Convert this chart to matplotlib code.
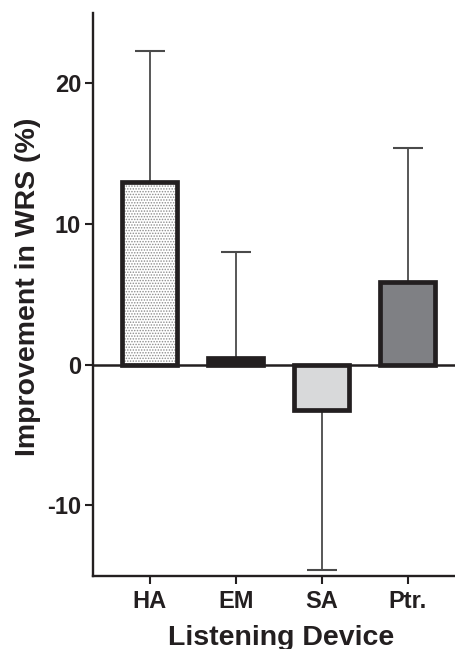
import numpy as np
import matplotlib
matplotlib.use("Agg")
import matplotlib.pyplot as plt

devices = ["HA", "EM", "SA", "Ptr."]
means = [13.0, 0.5, -3.2, 5.9]
sds = [9.3, 7.5, 11.4, 9.5]
fills = ["white", "#231f20", "#d8d9da", "#7f8084"]
yticks = [-10, 0, 10, 20]

INK = "#231f20"
plt.rcParams["font.family"] = ["Liberation Sans", "DejaVu Sans"]
plt.rcParams["font.weight"] = "bold"
plt.rcParams["axes.unicode_minus"] = False
plt.rcParams["hatch.linewidth"] = 0.7

W, H = 456, 649
fig = plt.figure(figsize=(W / 100, H / 100), dpi=100)
ax = fig.add_axes([93 / W, 1 - 575.7 / H, 1 - 93 / W, (575.7 - 13) / H])

x = np.arange(len(devices))
means_a = np.array(means)
sds_a = np.array(sds)
lower = np.where(means_a < 0, sds_a, 0)
upper = np.where(means_a >= 0, sds_a, 0)

ax.errorbar(x, means, yerr=[lower, upper], fmt="none", ecolor="#4a4a4a",
            elinewidth=1.3, capsize=10.5, capthick=1.5, zorder=1)

# fill (with dotted hatch on HA) then thick outlines on top
hatches = ["......", "", "", ""]
for xi, m, f, h in zip(x, means, fills, hatches):
    ax.bar(xi, m, width=0.64, color=f, edgecolor="#8c8c8c" if h else f,
           linewidth=0, hatch=h, zorder=2)
ax.bar(x, means, width=0.64, facecolor="none", edgecolor=INK,
       linewidth=3.4, zorder=3)

ax.axhline(0, color=INK, linewidth=1.8, zorder=4)

ax.set_xlim(-0.66, 3.56)
ax.set_ylim(-15, 25)
ax.set_xticks(x)
ax.set_xticklabels(devices)
ax.set_yticks(yticks)

for s in ["top", "right"]:
    ax.spines[s].set_visible(False)
for s in ["left", "bottom"]:
    ax.spines[s].set_linewidth(1.7)
    ax.spines[s].set_color(INK)

ax.tick_params(axis="both", colors=INK, width=1.5, length=6,
               labelsize=17, pad=2.5)
ax.tick_params(axis="x", pad=4)

fig.text(28.5 / W, 1 - 286.5 / H, "Improvement in WRS (%)", rotation=90,
         ha="center", va="center", fontsize=20.5, fontweight="bold", color=INK)
fig.text(281 / W, 1 - 645 / H, "Listening Device", ha="center",
         va="baseline", fontsize=20.5, fontweight="bold", color=INK)

fig.savefig("out.png", dpi=100)
